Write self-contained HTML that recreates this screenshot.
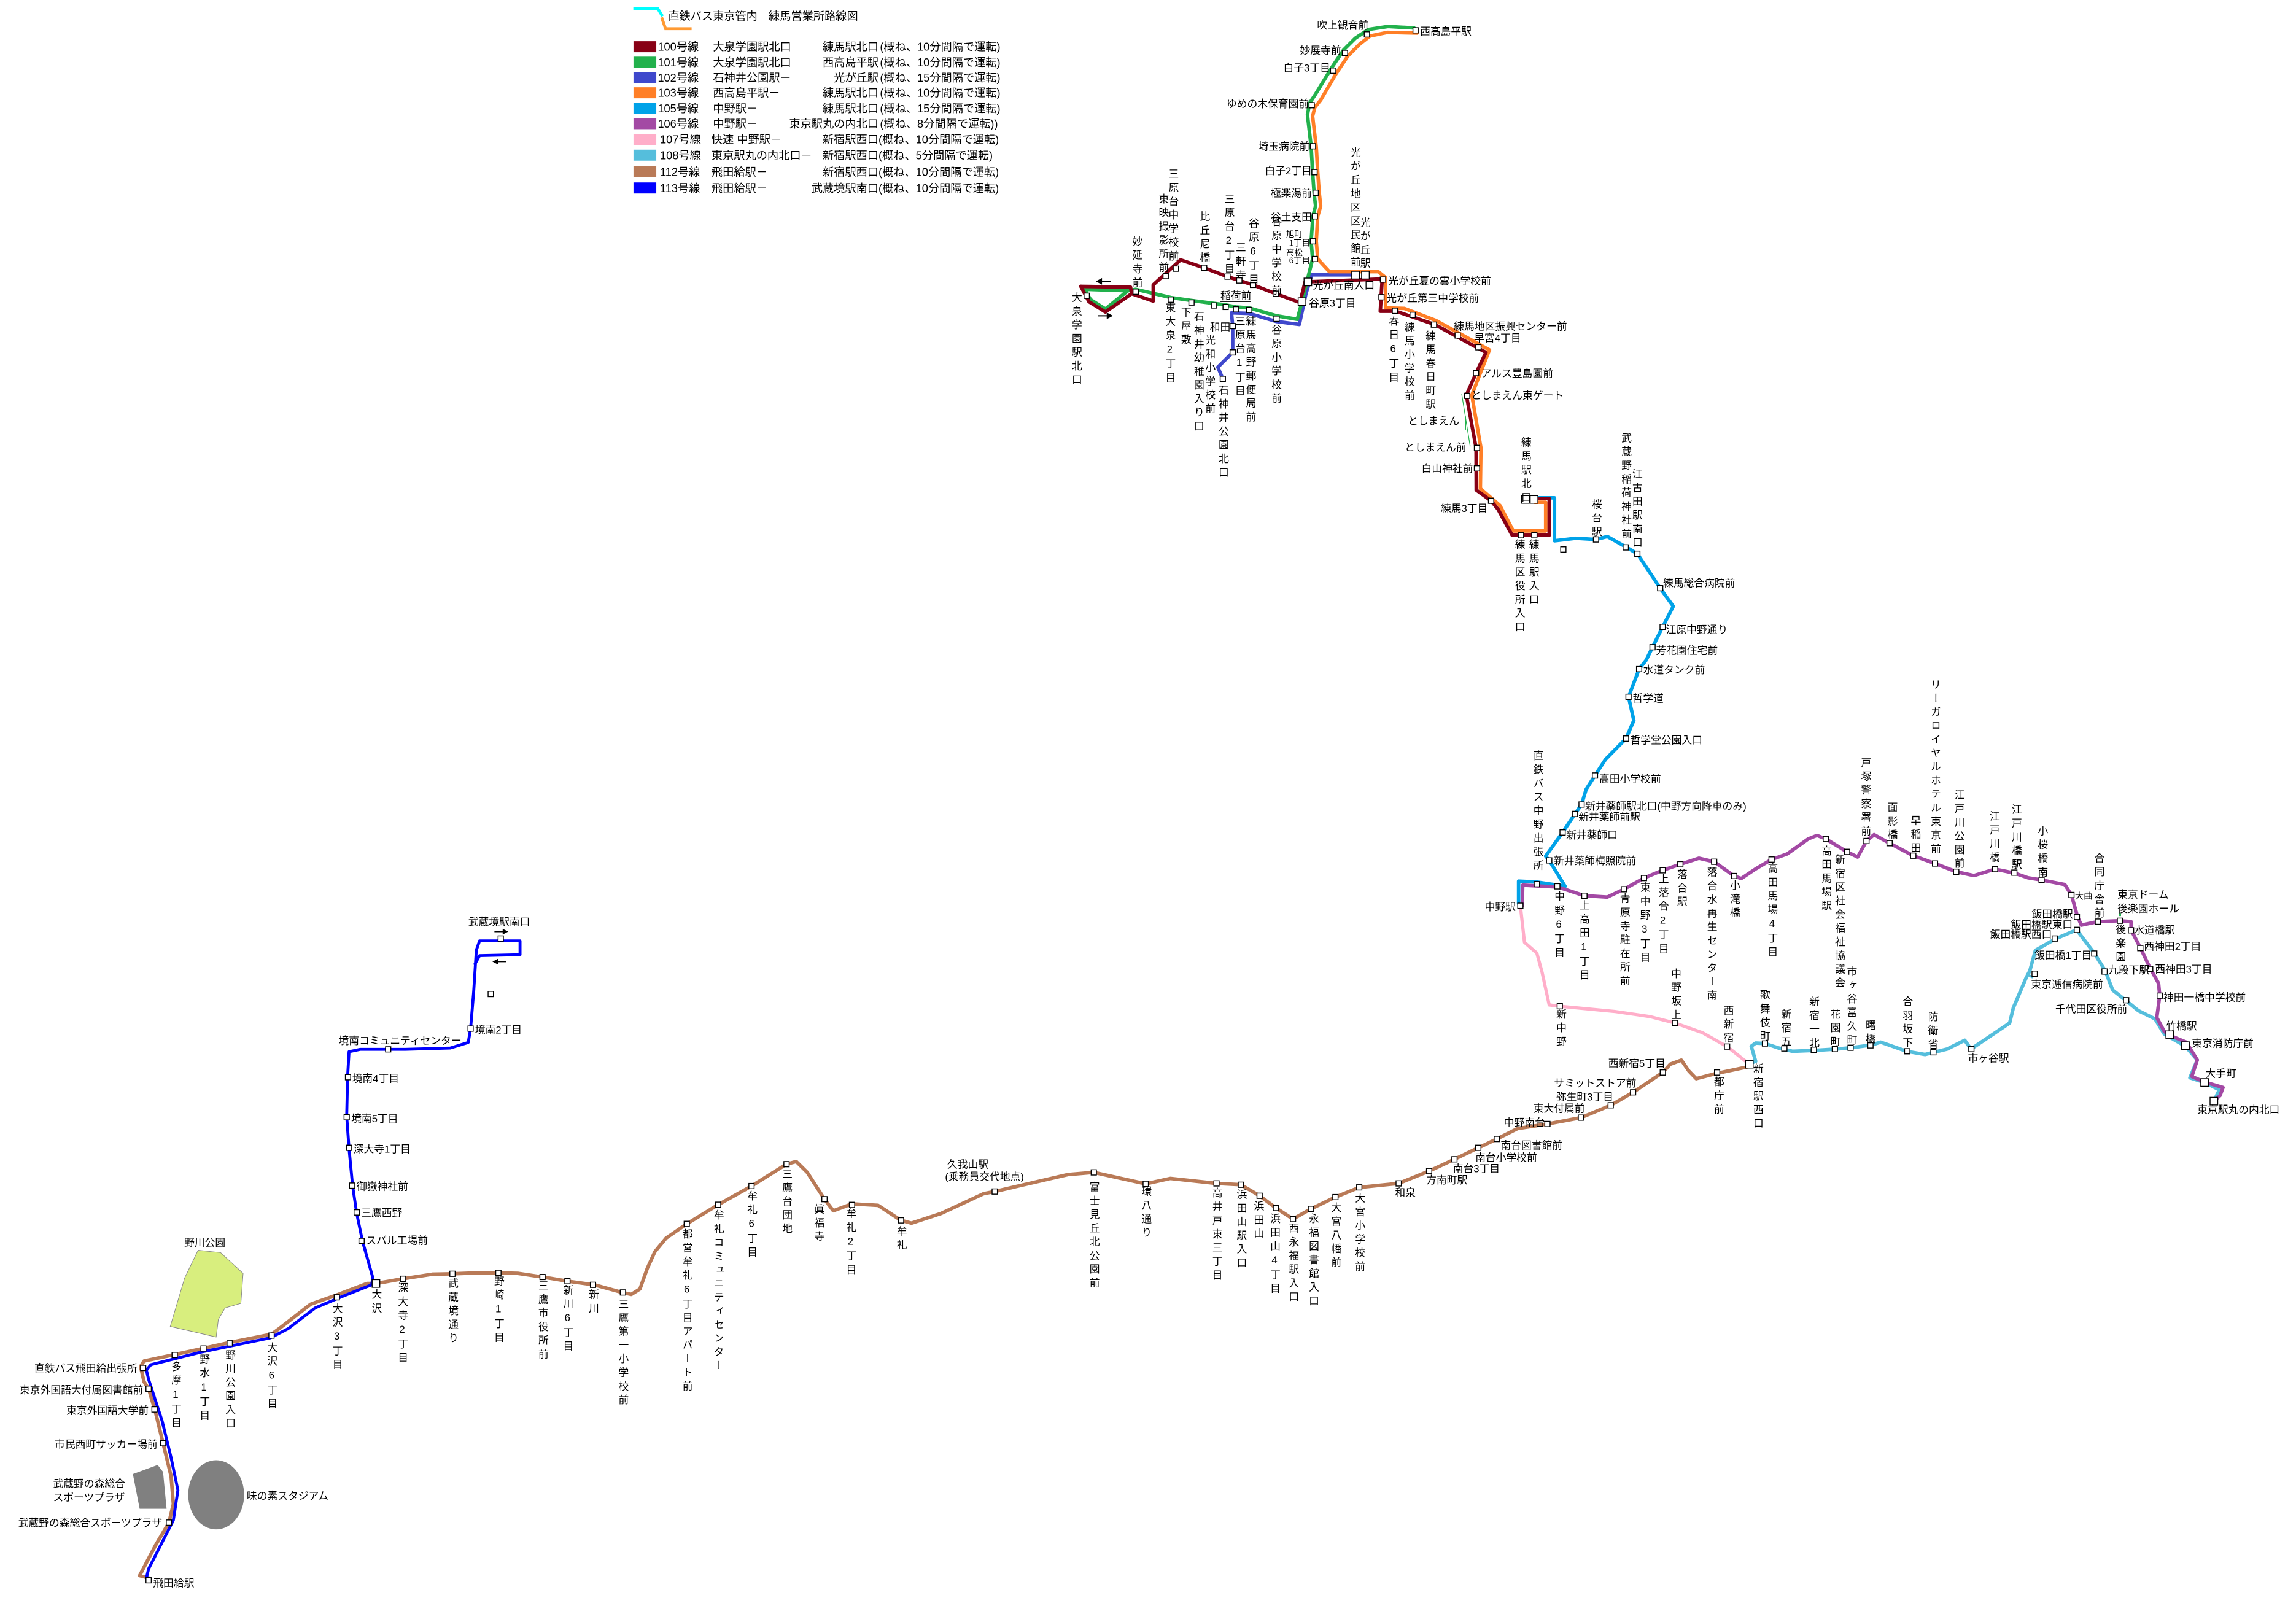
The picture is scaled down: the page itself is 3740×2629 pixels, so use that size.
<!DOCTYPE html>
<html><head><meta charset="utf-8"><style>
html,body{margin:0;padding:0;background:#fff}
svg{display:block}
text{font-family:"Liberation Sans","Noto Sans CJK JP",sans-serif;fill:#000}
.h{font-size:7px}
.e{font-size:7px;text-anchor:end}
.v{font-size:7px;writing-mode:vertical-rl;text-orientation:upright;letter-spacing:2.3px}
.lg{font-size:7.6px}
.r{fill:none;stroke-linejoin:round;stroke-linecap:round}
</style></head><body>
<svg width="3740" height="2629" viewBox="0 0 1560.3 1096.8" preserveAspectRatio="none" xmlns="http://www.w3.org/2000/svg">
<defs>
<rect id="st" x="-1.8" y="-1.8" width="3.6" height="3.6" fill="#fff" stroke="#000" stroke-width="0.6"/>
<rect id="sb" x="-2.6" y="-2.6" width="5.2" height="5.2" fill="#fff" stroke="#000" stroke-width="0.6"/>
</defs>
<rect width="1560.3" height="1096.8" fill="#fff"/>

<!-- Legend -->
<path d="M430.4,5.8 L447,5.8 L450.2,11" stroke="#00FFFF" stroke-width="2" fill="none"/>
<path d="M449.6,11.8 L452.3,19.5 L470,19.5" stroke="#FF9A33" stroke-width="2" fill="none"/>
<text class="lg" x="454" y="13.5">直鉄バス東京管内　練馬営業所路線図</text>
<g>
<rect x="430.5" y="28" width="15.5" height="7.5" fill="#880015"/>
<rect x="430.5" y="38.5" width="15.5" height="7.5" fill="#22B14C"/>
<rect x="430.5" y="49" width="15.5" height="7.5" fill="#3F48CC"/>
<rect x="430.5" y="59.3" width="15.5" height="7.5" fill="#FF7F27"/>
<rect x="430.5" y="69.8" width="15.5" height="7.5" fill="#00A2E8"/>
<rect x="430.5" y="80.3" width="15.5" height="7.5" fill="#A349A4"/>
<rect x="430.5" y="91" width="15.5" height="7.5" fill="#FFAEC9"/>
<rect x="430.5" y="101.7" width="15.5" height="7.5" fill="#55BEDC"/>
<rect x="430.5" y="113" width="15.5" height="7.5" fill="#B97A57"/>
<rect x="430.5" y="124" width="15.5" height="7.5" fill="#0000FF"/>
</g>
<g class="lg">
<text x="447" y="34.5">100号線</text><text x="484.5" y="34.5">大泉学園駅北口</text><text x="597" y="34.5" text-anchor="end">練馬駅北口</text><text x="598" y="34.5">(概ね、10分間隔で運転)</text>
<text x="447" y="45">101号線</text><text x="484.5" y="45">大泉学園駅北口</text><text x="597" y="45" text-anchor="end">西高島平駅</text><text x="598" y="45">(概ね、10分間隔で運転)</text>
<text x="447" y="55.5">102号線</text><text x="484.5" y="55.5">石神井公園駅－</text><text x="597" y="55.5" text-anchor="end">光が丘駅</text><text x="598" y="55.5">(概ね、15分間隔で運転)</text>
<text x="447" y="65.8">103号線</text><text x="484.5" y="65.8">西高島平駅－</text><text x="597" y="65.8" text-anchor="end">練馬駅北口</text><text x="598" y="65.8">(概ね、10分間隔で運転)</text>
<text x="447" y="76.3">105号線</text><text x="484.5" y="76.3">中野駅－</text><text x="597" y="76.3" text-anchor="end">練馬駅北口</text><text x="598" y="76.3">(概ね、15分間隔で運転)</text>
<text x="447" y="86.8">106号線</text><text x="484.5" y="86.8">中野駅－</text><text x="597" y="86.8" text-anchor="end">東京駅丸の内北口</text><text x="598" y="86.8">(概ね、8分間隔で運転))</text>
<text x="448.5" y="97.5">107号線</text><text x="483.5" y="97.5">快速 中野駅－</text><text x="597" y="97.5" text-anchor="end">新宿駅西口</text><text x="597" y="97.5">(概ね、10分間隔で運転)</text>
<text x="448.5" y="108.2">108号線</text><text x="483.5" y="108.2">東京駅丸の内北口－</text><text x="597" y="108.2" text-anchor="end">新宿駅西口</text><text x="597" y="108.2">(概ね、5分間隔で運転)</text>
<text x="448.5" y="119.5">112号線</text><text x="483.5" y="119.5">飛田給駅－</text><text x="597" y="119.5" text-anchor="end">新宿駅西口</text><text x="597" y="119.5">(概ね、10分間隔で運転)</text>
<text x="448.5" y="130.6">113号線</text><text x="483.5" y="130.6">飛田給駅－</text><text x="597" y="130.6" text-anchor="end">武蔵境駅南口</text><text x="597" y="130.6">(概ね、10分間隔で運転)</text>
</g>

<!-- Parks -->
<polygon points="134.6,849.6 149.9,851.2 165.2,865.3 163.7,885.7 153,888.8 148.4,896.6 146.9,908.6 115.7,901.4 125.5,868.4" fill="#D8EE7E" stroke="#888" stroke-width="0.4"/>
<polygon points="90.3,1001.7 107.1,995.5 110.8,1000.2 113.2,1025.3 94.9,1025.3" fill="#808080"/>
<ellipse cx="146.9" cy="1015.8" rx="19" ry="23.5" fill="#808080"/>

<!-- 108 light blue -->
<polyline class="r" stroke="#55BEDC" stroke-width="2.4" points="1188.6,723 1193.1,721.2 1190.1,711 1193.1,708.8 1199.4,709.1 1208.1,712 1218.1,714.4 1233.1,713.8 1248.1,712.9 1258.1,712 1271.9,710.1 1278.1,708.2 1295.7,714.4 1308.2,716.6 1323.2,712.9 1335.2,706.9 1339.4,712.9 1365.7,695.2 1368.2,684.9 1376.9,664.5 1379.4,659.8 1383.2,645.8 1396.9,638 1411.2,631.9 1423.2,647.7 1430.7,659.8 1435.7,672.8 1444.5,679.7 1453.2,686.8 1464.5,692.4 1470.7,702.6 1485.2,711 1493.2,720.3 1488.2,732.4 1498.2,735.6 1508.2,740.6 1504.5,748.3"/>
<polyline class="r" stroke="#55BEDC" stroke-width="1.6" points="1377.5,662 1381,664 1382.7,661.7"/>

<!-- 107 pink -->
<polyline class="r" stroke="#FFAEC9" stroke-width="2.2" points="1033.2,615.5 1036,640.4 1044.4,647.7 1048,660.9 1052.8,682.9 1060,683.8 1097.1,687.3 1121.1,690.8 1138.3,695.2 1157,701.8 1173.7,711.2 1188.8,723.2"/>

<!-- 105 cyan -->
<polyline class="r" stroke="#00A2E8" stroke-width="2.4" points="1042.5,338.3 1056.4,338.3 1056.4,367.5 1070.8,365.8 1084.6,366.6 1092.3,364.6 1104.8,371.6 1112.7,376.3 1128.2,399.7 1137.1,412 1129.9,426 1123,439.8 1118.7,448.6 1113.9,454.7 1106.7,473.5 1110.3,489.6 1105,501.9 1091.1,516 1083.9,527 1077.9,536.4 1074.8,546.7 1070.3,553.1 1061.9,565.7 1050.4,581.8 1052.8,584.7 1063.6,602.3 1044.4,599.4 1032,598.8 1032,614"/>

<!-- 106 purple -->
<polyline class="r" stroke="#A349A4" stroke-width="2.4" points="1034.5,615.5 1034.8,601.5 1058.8,602.8 1076.7,608.7 1092.3,609.6 1103.6,604.3 1117.2,596.7 1129.9,591.4 1141.9,587.3 1154.6,583.2 1164.9,585.6 1178.5,595.3 1183.3,597 1192.9,590.6 1203.9,584.1 1214.5,580.3 1228.8,570.1 1234.8,567.7 1240.8,570.1 1255.2,578.9 1262.4,582.4 1268.4,571.5 1273.6,567.2 1284.1,573 1300.2,581.5 1315,586.8 1329.4,592.4 1341.4,595 1355.8,590.6 1368.9,593.3 1378.2,596.5 1387.4,598 1403.2,601.1 1407.7,608.2 1411.9,623.1 1414.4,628.7 1425.7,626.3 1440.2,625.7 1448.2,626.3 1448.2,631.9 1454.5,644 1461.2,658 1466.9,668.2 1467.7,676.6 1465.7,691.5 1470.7,700.8 1474.5,703.6 1485.7,708.2 1493.2,720.3 1489.5,731.5 1498.2,735.3 1510.7,739 1508.7,744.5 1504.5,748.3"/>

<!-- 112 brown -->
<polyline class="r" stroke="#B97A57" stroke-width="2.4" points="1189.1,724.7 1165.4,729.7 1152.7,733 1147.7,727.8 1142.6,720.4 1135,723.2 1130,728.8 1109.8,742.3 1094.6,751.1 1074.4,759.5 1051.6,763.8 1031.4,766.9 1017.2,774 1004.6,780 988.4,787.8 971.2,795.8 950.5,804.2 923.7,806.9 907.5,813.5 890.9,821.5 878.7,828.4 867.1,820.9 856,812.6 843.3,805.1 826.7,804.2 795.3,800.8 778.6,804.5 743.3,796.7 725.6,798.2 676,809.7 668.4,811.2 639.6,824.6 619.4,831.2 612.3,829.3 596.7,819.1 579,818.1 566.3,822.8 560.3,814.9 548.6,796.7 541.1,789.3 534.5,791.1 510.7,806 488,818.7 466.7,831.7 452.6,841.4 445,850.7 439.9,861.9 434.9,875.9 429,879.6 423.2,878.4 403.9,873.1 385.6,870.6 368.7,867.8 351.9,865.3 338.7,865 324.4,865 307.5,865.6 293.8,865.9 273.9,869 255.5,872.2 249.4,872.2 228.9,880 211.1,886.3 189.7,902.9 184.5,906.7 156.1,912.3 139.2,916.1 118.7,920.5 97.9,924.9 95.5,928.6 97.9,939 101,943.7 105.6,959.4 110.8,980.7 116.3,1003.3 117.8,1022.1 114.8,1034.7 105.6,1050.3 94.9,1070.7 101,1072.3"/>

<!-- 113 blue -->
<polyline class="r" stroke="#0000FF" stroke-width="2" points="99.5,1072.3 101,1066.1 117.8,1033.1 120.9,1012.7 116.3,990.7 110.2,965.7 101,937.4 99.5,931.1 102.5,927.4 137.7,918.6 183.6,909.2 195.8,902.9 214.2,888.8 232.6,881 252.5,873.1 253.4,868.4 246.3,843.3 242.4,824.5 239.6,805.7 237.2,780.6 235.6,758.6 236.2,731.9 237.2,714.7 244.8,713.1 275.4,713.1 306,712.2 318.2,708.4 319.8,699 321.9,673.9 323.7,645.7 325.9,639.4 353.4,639.4 353.4,648.8 325.9,649.4 322.8,655.1"/>

<!-- North: blue 102 -->
<polyline class="r" stroke="#3F48CC" stroke-width="2.4" points="921.2,186.8 891.4,186.8 887.5,199.6 883,220.5 867.5,218.5 848.9,213 836.9,212.6 837.7,221.6 837.7,239.5 827.6,249.5 831,257.5"/>
<!-- orange 103 -->
<polyline class="r" stroke="#FF7F27" stroke-width="2.4" points="963,22.5 943,22 931,24.5 924,30 916,38 908,50 897.5,68 893.5,73 892,79 894.5,100 895.5,117 896.5,131 897.5,140 895.5,147 894.5,164 895.5,176 903.4,184.6 936.6,184.6 941.6,188.6 941.6,209.2 954.4,209.6 975.8,217.8 1012.2,237.8 1006,253.5 1000.2,268.5 1006.4,304.4 1006,332 1019.3,343.5 1028.4,360.8 1050.4,360.8 1050.4,341.3 1043,341.3"/>
<!-- green 101 -->
<polyline class="r" stroke="#22B14C" stroke-width="2.4" points="961,19 943.3,18 930,20 921,26 913,34 905,46 894,64 890,70 888.5,78 891,99.4 892,117 893,131 894,140 892.2,147 891,164 892,176 889,188 886.5,198 884.8,205 881.6,217 867.5,214.6 848.9,209.3 840,208.6 832.9,207.2 825,206.2 809.7,204.2 795.7,202.2 771.8,196.6 766.4,197.6 737.1,196.6 741.1,203.6 751.2,210 766.4,197.6"/>
<!-- dark red 100 -->
<polyline class="r" stroke="#880015" stroke-width="2.4" points="734.5,194.6 768.3,195.2 769,199.6 783.7,204.6 783.7,193.6 802.3,176.6 818.3,182 834.2,188 842.2,190.6 851.5,193.6 867,199.6 883.4,205.6 886.9,191.6 939.3,189.6 938,211.5 948.6,211.5 975.2,220.6 1009.8,239.5 1003.1,253.5 996.5,268.5 1003.1,304.4 1003.2,333 1013.3,340.3 1018.1,346.2 1027.6,363.7 1052.8,363.7 1052.8,338.8 1042.5,338.8"/>
<polyline class="r" stroke="#880015" stroke-width="2.4" points="769,199.6 751.2,212 740,205 734.5,194.6"/>
<line x1="993.3" y1="267.5" x2="999.1" y2="303.4" stroke="#22B14C" stroke-width="0.5"/>
<line x1="996" y1="283" x2="996" y2="292" stroke="#22B14C" stroke-width="0.5"/>

<!-- arrows -->
<g stroke="#000" stroke-width="0.8" fill="#000">
<line x1="747" y1="191.2" x2="755" y2="191.2"/><polygon points="745.5,191.2 748.5,189.6 748.5,192.8"/>
<line x1="746" y1="214.6" x2="754" y2="214.6"/><polygon points="755.5,214.6 752.5,213 752.5,216.2"/>
<line x1="336" y1="633.1" x2="343" y2="633.1"/><polygon points="344.5,633.1 342,631.8 342,634.4"/>
<line x1="337" y1="653.5" x2="344" y2="653.5"/><polygon points="335.5,653.5 338,652.2 338,654.8"/>
</g>
<rect x="1439.8" y="620.5" width="1.6" height="2" fill="#22B14C"/>

<!-- stops -->
<g>
<use href="#st" x="962" y="20.6"/><use href="#st" x="928.9" y="23.4"/><use href="#st" x="914" y="36"/><use href="#st" x="906" y="48"/><use href="#st" x="891.4" y="71.5"/><use href="#st" x="892.2" y="99.4"/><use href="#st" x="893.3" y="117"/><use href="#st" x="894.1" y="131"/><use href="#st" x="893.5" y="147"/><use href="#st" x="892.2" y="164"/><use href="#st" x="893.5" y="176"/>
<use href="#st" x="738.5" y="201"/><use href="#st" x="771.8" y="198.2"/><use href="#st" x="792.2" y="187.6"/><use href="#st" x="799.1" y="182.6"/><use href="#st" x="818.3" y="182"/><use href="#st" x="834.2" y="188"/><use href="#st" x="842.2" y="190.6"/><use href="#st" x="851.5" y="193.6"/><use href="#st" x="867" y="199.6"/><use href="#sb" x="884.8" y="205"/><use href="#sb" x="888.8" y="191.6"/><use href="#sb" x="921.2" y="187"/><use href="#sb" x="927.9" y="187"/><use href="#st" x="939.8" y="190"/><use href="#st" x="938.8" y="202"/>
<use href="#st" x="795.7" y="203.6"/><use href="#st" x="809.7" y="205.6"/><use href="#st" x="825" y="207.6"/><use href="#st" x="832.9" y="208.6"/><use href="#st" x="840" y="210.2"/><use href="#st" x="848.9" y="210.6"/><use href="#st" x="867.5" y="216.6"/><use href="#st" x="837.7" y="221.6"/><use href="#st" x="837.7" y="239.5"/><use href="#st" x="831" y="257.5"/>
<use href="#st" x="948" y="211.2"/><use href="#st" x="960" y="214"/><use href="#st" x="974.4" y="220.6"/><use href="#st" x="990.6" y="228"/><use href="#st" x="1004.7" y="236"/><use href="#st" x="1003.1" y="253.5"/><use href="#st" x="997" y="269"/><use href="#st" x="1003.7" y="304.4"/><use href="#st" x="1003.7" y="318.3"/><use href="#st" x="1013.3" y="340.3"/><use href="#st" x="1033.6" y="363.7"/><use href="#st" x="1042.7" y="363.7"/><use href="#sb" x="1036.7" y="339.4"/><use href="#sb" x="1042.5" y="339.4"/>
<use href="#st" x="1062.4" y="373.4"/><use href="#st" x="1084.6" y="366.6"/><use href="#st" x="1104.8" y="372"/><use href="#st" x="1112.7" y="376.3"/><use href="#st" x="1128.2" y="399.7"/><use href="#st" x="1129.9" y="426"/><use href="#st" x="1123" y="439.8"/><use href="#st" x="1113.9" y="454.7"/><use href="#st" x="1106.7" y="473.5"/><use href="#st" x="1105" y="501.9"/><use href="#st" x="1083.9" y="527"/><use href="#st" x="1074.8" y="546.7"/><use href="#st" x="1070.3" y="553.1"/><use href="#st" x="1061.9" y="565.7"/><use href="#st" x="1052.8" y="584.7"/><use href="#st" x="1044.4" y="600.8"/><use href="#st" x="1058.3" y="602.3"/><use href="#st" x="1033.2" y="615.5"/>
<use href="#st" x="1076.7" y="608.7"/><use href="#st" x="1103.6" y="604.3"/><use href="#st" x="1117.2" y="596.7"/><use href="#st" x="1129.9" y="591.4"/><use href="#st" x="1141.9" y="587.3"/><use href="#st" x="1164.9" y="585.6"/><use href="#st" x="1178.5" y="595.3"/><use href="#st" x="1203.9" y="584.1"/><use href="#st" x="1240.8" y="570.1"/><use href="#st" x="1255.2" y="578.9"/><use href="#st" x="1268.4" y="571.5"/><use href="#st" x="1284.1" y="573"/><use href="#st" x="1300.2" y="581.5"/><use href="#st" x="1315" y="586.8"/><use href="#st" x="1329.4" y="592.4"/><use href="#st" x="1355.8" y="590.6"/><use href="#st" x="1368.9" y="593"/>
<use href="#st" x="1387.4" y="598"/><use href="#st" x="1407.7" y="608.2"/><use href="#st" x="1411.4" y="623.1"/><use href="#st" x="1425.7" y="626.3"/><use href="#st" x="1440.7" y="625.7"/><use href="#st" x="1448.2" y="632.2"/><use href="#st" x="1454.5" y="644.3"/><use href="#st" x="1461.2" y="658.5"/><use href="#st" x="1467.7" y="676.6"/><use href="#sb" x="1474.5" y="703.2"/><use href="#sb" x="1485.2" y="710.6"/><use href="#sb" x="1498.2" y="735.6"/><use href="#sb" x="1504.5" y="748.3"/>
<use href="#st" x="1199.4" y="709.1"/><use href="#st" x="1212.6" y="712.5"/><use href="#st" x="1232.6" y="713.4"/><use href="#st" x="1246.9" y="712.9"/><use href="#st" x="1257.6" y="712"/><use href="#st" x="1271.1" y="710.4"/><use href="#st" x="1296.1" y="714.4"/><use href="#st" x="1313.9" y="715.1"/><use href="#st" x="1339.7" y="712.9"/><use href="#st" x="1382.7" y="661.7"/><use href="#st" x="1396.4" y="637.8"/><use href="#st" x="1411.4" y="631.9"/><use href="#st" x="1423.2" y="648"/><use href="#st" x="1430.2" y="660.2"/><use href="#st" x="1444.9" y="679.7"/>
<use href="#st" x="1060" y="683.8"/><use href="#st" x="1138.3" y="695.2"/><use href="#st" x="1173.7" y="711.2"/><use href="#sb" x="1188.8" y="723.2"/>
<use href="#st" x="1130" y="728.8"/><use href="#st" x="1166.9" y="728.8"/><use href="#st" x="1109.8" y="742.3"/><use href="#st" x="1094.6" y="751.1"/><use href="#st" x="1074.4" y="759.5"/><use href="#st" x="1051.6" y="763.8"/><use href="#st" x="1017.2" y="774"/><use href="#st" x="1004.6" y="780"/><use href="#st" x="988.4" y="787.8"/><use href="#st" x="971.2" y="795.8"/><use href="#st" x="950.5" y="804.2"/><use href="#st" x="923.7" y="806.9"/><use href="#st" x="907.5" y="813.5"/><use href="#st" x="890.9" y="821.5"/><use href="#st" x="878.7" y="828.4"/><use href="#st" x="867.1" y="820.9"/><use href="#st" x="856" y="812.6"/><use href="#st" x="843.3" y="805.1"/><use href="#st" x="826.7" y="804.2"/><use href="#st" x="778.6" y="804.5"/><use href="#st" x="743.3" y="796.7"/><use href="#st" x="676" y="809.7"/><use href="#st" x="612.3" y="829.3"/><use href="#st" x="579" y="818.8"/><use href="#st" x="560.3" y="814.9"/><use href="#st" x="534.5" y="791.1"/><use href="#st" x="510.7" y="806"/><use href="#st" x="488" y="818.7"/><use href="#st" x="466.7" y="831.7"/><use href="#st" x="423.3" y="878.3"/>
<use href="#st" x="403" y="873.1"/><use href="#st" x="385.6" y="870.6"/><use href="#st" x="368.7" y="867.8"/><use href="#st" x="338.7" y="865"/><use href="#st" x="307.5" y="865.6"/><use href="#st" x="273.9" y="869"/><use href="#sb" x="255.5" y="872.2"/><use href="#st" x="228.9" y="881.6"/><use href="#st" x="184.5" y="907.6"/><use href="#st" x="156.1" y="912.9"/><use href="#st" x="138.3" y="916.4"/><use href="#st" x="118.7" y="920.8"/><use href="#st" x="97.3" y="929.6"/><use href="#st" x="101" y="943.7"/><use href="#st" x="105" y="957.8"/><use href="#st" x="110.8" y="980.7"/><use href="#st" x="114.8" y="1034.7"/><use href="#st" x="101" y="1073.9"/>
<use href="#st" x="340.3" y="637.8"/><use href="#st" x="333.5" y="675.5"/><use href="#st" x="319.8" y="699"/><use href="#st" x="263.8" y="713.1"/><use href="#st" x="236.5" y="732"/><use href="#st" x="235.6" y="759.2"/><use href="#st" x="237.2" y="780"/><use href="#st" x="239.3" y="805.7"/><use href="#st" x="242.4" y="823.9"/><use href="#st" x="245.7" y="843.3"/>
</g>

<!-- Horizontal labels -->
<g class="h">
<text x="965" y="23.7">西高島平駅</text>
<text class="e" x="930" y="19.7">吹上観音前</text>
<text class="e" x="911.4" y="36.7">妙展寺前</text>
<text class="e" x="904" y="48.6">白子3丁目</text>
<text class="e" x="889.5" y="73">ゆめの木保育園前</text>
<text class="e" x="890" y="102">埼玉病院前</text>
<text class="e" x="891.5" y="118.5">白子2丁目</text>
<text class="e" x="891.5" y="133.7">極楽湯前</text>
<text class="e" x="891.5" y="150">谷土支田</text>
<text x="874" y="161" style="font-size:5.6px">旭町</text>
<text x="876" y="167" style="font-size:5.6px">1丁目</text>
<text x="874" y="173.5" style="font-size:5.6px">高松</text>
<text x="876" y="179" style="font-size:5.6px">6丁目</text>
<text x="943.3" y="193.3">光が丘夏の雲小学校前</text>
<text x="942.2" y="205">光が丘第三中学校前</text>
<text x="892.2" y="196.3">光が丘南入口</text>
<text x="889.5" y="208.3">谷原3丁目</text>
<text x="829.4" y="203.3">稲荷前</text>
<line x1="829.4" y1="205" x2="850.2" y2="205" stroke="#000" stroke-width="0.4"/>
<text x="822.2" y="224.7">和田</text>
<text x="988" y="224.3">練馬地区振興センター前</text>
<text x="1001.8" y="232.2">早宮4丁目</text>
<text x="1006.6" y="256.2">アルス豊島園前</text>
<text x="999.7" y="271.2">としまえん東ゲート</text>
<text class="e" x="991.7" y="288.5">としまえん</text>
<text class="e" x="996.5" y="306.5">としまえん前</text>
<text class="e" x="1001" y="320.8">白山神社前</text>
<text class="e" x="1011" y="348">練馬3丁目</text>
<text x="1130.2" y="398.7">練馬総合病院前</text>
<text x="1132.1" y="430.3">江原中野通り</text>
<text x="1125.4" y="444.6">芳花園住宅前</text>
<text x="1116.7" y="457.7">水道タンク前</text>
<text x="1109.5" y="477.1">哲学道</text>
<text x="1107.9" y="505.5">哲学堂公園入口</text>
<text x="1086.8" y="531.7">高田小学校前</text>
<text x="1077.2" y="550.2">新井薬師駅北口(中野方向降車のみ)</text>
<text x="1072.7" y="557.6">新井薬師前駅</text>
<text x="1064.3" y="569.9">新井薬師口</text>
<text x="1055.9" y="587.5">新井薬師梅照院前</text>
<text class="e" x="1030" y="618.7">中野駅</text>
<text x="1337.3" y="721.6">市ヶ谷駅</text>
<text class="e" x="1131.8" y="725">西新宿5丁目</text>
<text class="e" x="1112" y="738.5">サミットストア前</text>
<text class="e" x="1096.4" y="747.9">弥生町3丁目</text>
<text class="e" x="1077" y="755.7">東大付属前</text>
<text class="e" x="1050" y="765.3">中野南台</text>
<text x="1019.8" y="780.7">南台図書館前</text>
<text x="1002.6" y="789.2">南台小学校前</text>
<text x="987.4" y="796.6">南台3丁目</text>
<text x="969.2" y="804.4">方南町駅</text>
<text x="948" y="813">和泉</text>
<text x="643.7" y="793.7">久我山駅</text>
<text x="642.2" y="802">(乗務員交代地点)</text>
<text x="1410" y="610.9" style="font-size:6px">大曲</text>
<text x="1439" y="610.4">東京ドーム</text>
<text x="1439" y="620">後楽園ホール</text>
<text class="e" x="1408.7" y="623.7">飯田橋駅</text>
<text class="e" x="1408.5" y="630.8">飯田橋駅東口</text>
<text class="e" x="1394.4" y="637.4">飯田橋駅西口</text>
<text x="1450.2" y="634.6">水道橋駅</text>
<text x="1457" y="645.7">西神田2丁目</text>
<text x="1464.5" y="661">西神田3丁目</text>
<text x="1470.2" y="680.2">神田一橋中学校前</text>
<text x="1472" y="699.7">竹橋駅</text>
<text x="1489.5" y="711.5">東京消防庁前</text>
<text x="1498.7" y="732">大手町</text>
<text x="1493.2" y="756.5">東京駅丸の内北口</text>
<text class="e" x="1421.5" y="651.7">飯田橋1丁目</text>
<text x="1432.7" y="661.6">九段下駅</text>
<text x="1380.2" y="671.4">東京逓信病院前</text>
<text class="e" x="1445.7" y="688.2">千代田区役所前</text>
<text class="e" x="93.3" y="932.3">直鉄バス飛田給出張所</text>
<text class="e" x="97.3" y="947">東京外国語大付属図書館前</text>
<text class="e" x="101" y="961.1">東京外国語大学前</text>
<text class="e" x="107.1" y="984">市民西町サッカー場前</text>
<text x="36.1" y="1010.7">武蔵野の森総合</text>
<text x="36.1" y="1020.1">スポーツプラザ</text>
<text class="e" x="110.2" y="1037.4">武蔵野の森総合スポーツプラザ</text>
<text x="104" y="1078.2">飛田給駅</text>
<text x="318.2" y="629">武蔵境駅南口</text>
<text x="322.8" y="702.3">境南2丁目</text>
<text x="230.1" y="709.6">境南コミュニティセンター</text>
<text x="239.3" y="735.3">境南4丁目</text>
<text x="238.7" y="762.6">境南5丁目</text>
<text x="240.2" y="783.3">深大寺1丁目</text>
<text x="242.4" y="808.7">御嶽神社前</text>
<text x="245.4" y="826.6">三鷹西野</text>
<text x="248.8" y="845.4">スバル工場前</text>
<text x="139.2" y="847" text-anchor="middle">野川公園</text>
<text x="167.7" y="1019">味の素スタジアム</text>
</g>

<!-- Vertical labels -->
<g class="v">
<text x="920.7" y="100">光が丘地区区民館前</text>
<text x="927.3" y="147.5">光が丘駅</text>
<text x="867" y="147">谷原中学校前</text>
<text x="851.5" y="148">谷原6丁目</text>
<text x="835" y="131.5">三原台2丁目</text>
<text x="842.7" y="164.5">三軒寺</text>
<text x="818.3" y="143.5">比丘尼橋</text>
<text x="797" y="114.5">三原台中学校前</text>
<text x="790.3" y="131.5">東映撮影所前</text>
<text x="772.5" y="160.5">妙延寺前</text>
<text x="731.3" y="198.5">大泉学園駅北口</text>
<text x="794.9" y="205.5">東大泉2丁目</text>
<text x="805.5" y="208.5">下屋敷</text>
<text x="814.3" y="211.5">石神井幼稚園入り口</text>
<text x="822" y="227.5">光和小学校前</text>
<text x="842.2" y="214.5">三原台1丁目</text>
<text x="849.6" y="214.5">練馬高野郵便局前</text>
<text x="831" y="261.5">石神井公園北口</text>
<text x="867" y="220.5">谷原小学校前</text>
<text x="946.7" y="214.5">春日6丁目</text>
<text x="957.4" y="218.5">練馬小学校前</text>
<text x="971.7" y="224.5">練馬春日町駅</text>
<text x="1036.7" y="297">練馬駅北口</text>
<text x="1032.4" y="366.5">練馬区役所入口</text>
<text x="1042" y="366.5">練馬駅入口</text>
<text x="1084.6" y="339">桜台駅</text>
<text x="1104.8" y="294">武蔵野稲荷神社前</text>
<text x="1112.2" y="318.5">江古田駅南口</text>
<text x="1044.9" y="510">直鉄バス中野出張所</text>
<text x="1059.3" y="605.5">中野6丁目</text>
<text x="1076.3" y="611.5">上高田1丁目</text>
<text x="1103.8" y="607">青原寺駐在所前</text>
<text x="1117.5" y="599.5">東中野3丁目</text>
<text x="1130" y="593.5">上落合2丁目</text>
<text x="1142.6" y="590.5">落合駅</text>
<text x="1163" y="589">落合水再生センター南</text>
<text x="1178.5" y="598">小滝橋</text>
<text x="1204.2" y="586.5">高田馬場4丁目</text>
<text x="1240.8" y="574.5">高田馬場駅</text>
<text x="1249.9" y="580.5">新宿区社会福祉協議会</text>
<text x="1258" y="656.5">市ヶ谷富久町</text>
<text x="1267.6" y="514.5">戸塚警察署前</text>
<text x="1285.6" y="545">面影橋</text>
<text x="1301.4" y="554">早稲田</text>
<text x="1315" y="461.5">リーガロイヤルホテル東京前</text>
<text x="1331.1" y="536.5">江戸川公園前</text>
<text x="1355" y="551">江戸川橋</text>
<text x="1370" y="546.5">江戸川橋駅</text>
<text x="1387.7" y="561">小桜橋南</text>
<text x="1426.2" y="579.5">合同庁舎前</text>
<text x="1440.7" y="628">後楽園</text>
<text x="1060.5" y="685.5">新中野</text>
<text x="1138.5" y="658">中野坂上</text>
<text x="1174.2" y="683">西新宿</text>
<text x="1198.9" y="672.5">歌舞伎町</text>
<text x="1213.3" y="685.5">新宿五</text>
<text x="1232.4" y="677">新宿一北</text>
<text x="1246.8" y="685.5">花園町</text>
<text x="1270.7" y="693">曙橋</text>
<text x="1295.9" y="677">合羽坂下</text>
<text x="1313.1" y="687.3">防衛省</text>
<text x="1194.4" y="722.5">新宿駅西口</text>
<text x="1167.7" y="731.5">都庁前</text>
<text x="923.7" y="810.5">大宮小学校前</text>
<text x="907.5" y="817">大宮八幡前</text>
<text x="892.4" y="824.5">永福図書館入口</text>
<text x="878.7" y="831">西永福駅入口</text>
<text x="866.1" y="824.5">浜田山4丁目</text>
<text x="855" y="816">浜田山</text>
<text x="843.3" y="808">浜田山駅入口</text>
<text x="826.7" y="807">高井戸東三丁目</text>
<text x="778.6" y="806">環八通り</text>
<text x="743.3" y="803">富士見丘北公園前</text>
<text x="612.3" y="833">牟礼</text>
<text x="578" y="821">牟礼2丁目</text>
<text x="556.2" y="818">眞福寺</text>
<text x="534.5" y="794">三鷹台団地</text>
<text x="510.7" y="809">牟礼6丁目</text>
<text x="488" y="822">牟礼コミュニティセンター</text>
<text x="466.7" y="835">都営牟礼6丁目アパート前</text>
<text x="423.2" y="882.5">三鷹第一小学校前</text>
<text x="403" y="876">新川</text>
<text x="385.6" y="873">新川6丁目</text>
<text x="368.7" y="870">三鷹市役所前</text>
<text x="338.7" y="867">野崎1丁目</text>
<text x="307.5" y="868.5">武蔵境通り</text>
<text x="273.3" y="871.5">深大寺2丁目</text>
<text x="255.5" y="876">大沢</text>
<text x="228.9" y="885.5">大沢3丁目</text>
<text x="184.5" y="912">大沢6丁目</text>
<text x="156.1" y="917">野川公園入口</text>
<text x="138.6" y="920">野水1丁目</text>
<text x="119.3" y="925">多摩1丁目</text>
</g>
</svg>
</body></html>
